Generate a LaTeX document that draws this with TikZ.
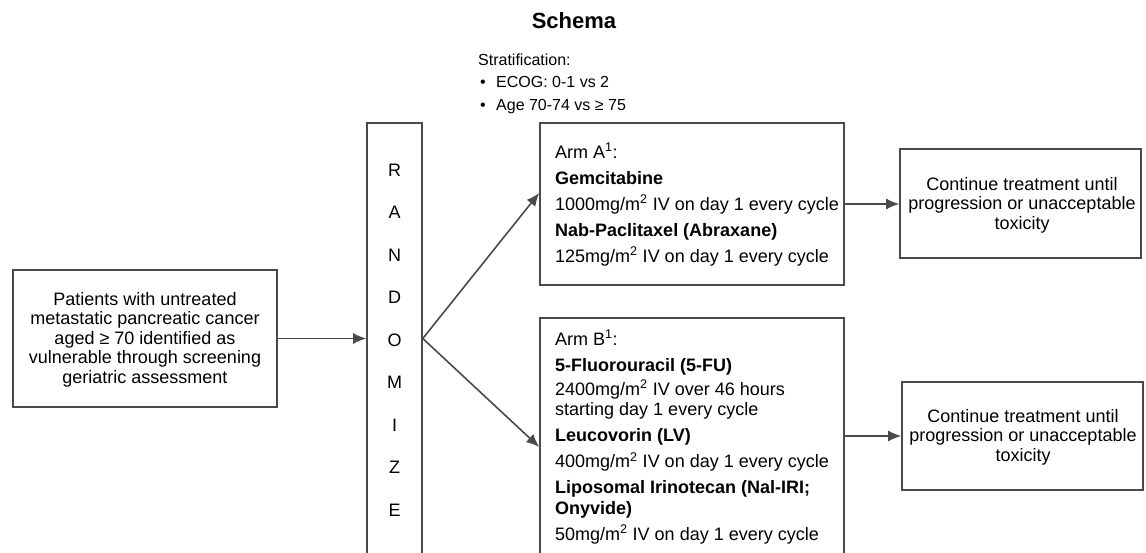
\documentclass[tikz,border=0pt]{standalone}
\usepackage{fontspec}
\setmainfont{Liberation Sans}
\usetikzlibrary{arrows.meta}
\definecolor{linegray}{HTML}{4A4A4A}
\tikzset{
  boxnode/.style={draw=linegray, line width=1.6pt, rectangle, inner sep=0pt},
  conn/.style={draw=linegray, line width=1.6pt, -{Latex[length=13pt,width=11pt]}},
  basefont/.style={font=\fontsize{18}{20}\selectfont},
  txt/.style={basefont, inner sep=0pt, text=black},
  stratfont/.style={font=\fontsize{16}{18}\selectfont},
}
\begin{document}
\begin{tikzpicture}[x=1pt,y=-1pt]
\useasboundingbox (0,0) rectangle (1146,552);
\clip (0,0) rectangle (1146,552);
\fill[white] (0,0) rectangle (1146,552);

% title
\node[txt, font=\fontsize{22}{24}\selectfont\bfseries, anchor=base] (title) at (574,28) {Schema};

% stratification
\node[txt, stratfont, anchor=base west] (strat) at (478,65) {Stratification:};
\node[txt, stratfont, anchor=base] (b1) at (483,87) {•};
\node[txt, stratfont, anchor=base west] (s1) at (496,87) {ECOG: 0-1 vs 2};
\node[txt, stratfont, anchor=base] (b2) at (483,110) {•};
\node[txt, stratfont, anchor=base west] (s2) at (496,110) {Age 70-74 vs ≥ 75};

% boxes
\node[boxnode, minimum width=264pt, minimum height=137pt] (left) at (145,338.5) {};
\node[boxnode, minimum width=55pt, minimum height=500pt] (rand) at (394.5,373) {};
\node[boxnode, minimum width=304pt, minimum height=162pt] (armA) at (692,204) {};
\node[boxnode, minimum width=304pt, minimum height=400pt] (armB) at (692,518) {};
\node[boxnode, minimum width=241pt, minimum height=109pt] (r1) at (1020.5,203.5) {};
\node[boxnode, minimum width=241pt, minimum height=108pt] (r2) at (1022.5,436) {};

% left text (anchor = baseline of last line)
\node[txt, align=center, font=\fontsize{18}{19.5}\selectfont, anchor=base] (lefttext) at (145,383)
 {Patients with untreated\\metastatic pancreatic cancer\\aged ≥ 70 identified as\\vulnerable through screening\\geriatric assessment};

% randomize letters
\foreach \l [count=\i from 0] in {R,A,N,D,O,M,I,Z,E} {
  \node[txt, anchor=base] (let\i) at (394.5,176+42.5*\i) {\l};
}

% arm A text
\node[txt, align=left, anchor=base west, font=\fontsize{18}{20.5}\selectfont] (armAtext) at (555,262)
 {Arm A\textsuperscript{1}:\\[5.5pt]
  \textbf{Gemcitabine}\\[5.5pt]
  1000mg/m\textsuperscript{2} IV on day 1 every cycle\\[5.5pt]
  \textbf{Nab-Paclitaxel (Abraxane)}\\[5.5pt]
  125mg/m\textsuperscript{2} IV on day 1 every cycle};

% arm B text
\node[txt, align=left, anchor=base west, font=\fontsize{18}{20.5}\selectfont] (armBtext) at (555,540)
 {Arm B\textsuperscript{1}:\\[5.5pt]
  \textbf{5-Fluorouracil (5-FU)}\\[3.5pt]
  2400mg/m\textsuperscript{2} IV over 46 hours\\
  starting day 1 every cycle\\[5.5pt]
  \textbf{Leucovorin (LV)}\\[5.5pt]
  400mg/m\textsuperscript{2} IV on day 1 every cycle\\[5.5pt]
  \textbf{Liposomal Irinotecan (Nal-IRI;}\\
  \textbf{Onyvide)}\\[5.5pt]
  50mg/m\textsuperscript{2} IV on day 1 every cycle};

% right texts
\node[txt, align=center, font=\fontsize{18}{19.5}\selectfont, anchor=base] (r1text) at (1022,229)
 {Continue treatment until\\progression or unacceptable\\toxicity};
\node[txt, align=center, font=\fontsize{18}{19.5}\selectfont, anchor=base] (r2text) at (1023,461)
 {Continue treatment until\\progression or unacceptable\\toxicity};

% connectors
\coordinate (fork) at (rand.east |- left.east);
\coordinate (aIn) at ([yshift=11pt]armA.west);
\coordinate (bIn) at ([yshift=71pt]armB.west);
\draw[conn] (left.east) -- (left.east -| rand.west);
\draw[conn] (fork) -- (aIn);
\draw[conn] (fork) -- (bIn);
\draw[conn] (armA.east) -- (armA.east -| r1.west);
\draw[conn] (r2.west -| armB.east) -- (r2.west);
\end{tikzpicture}
\end{document}
